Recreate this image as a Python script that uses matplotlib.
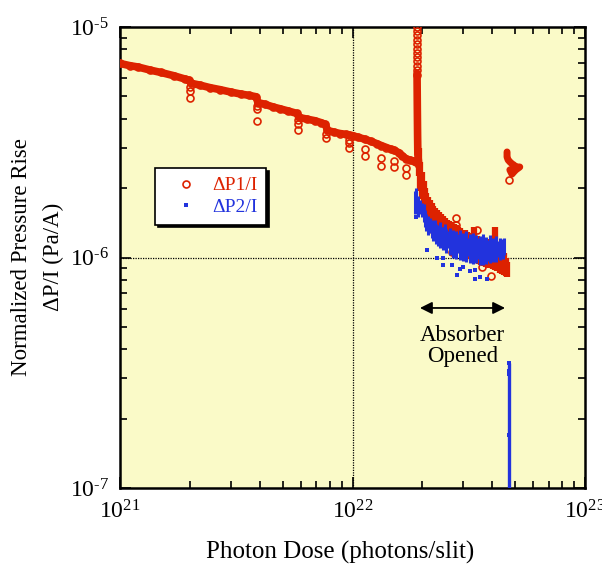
import matplotlib
matplotlib.use("Agg")
import matplotlib.pyplot as plt
from matplotlib.ticker import LogLocator, NullFormatter, FuncFormatter
import math

plt.rcParams['font.family'] = ['Liberation Serif', 'DejaVu Serif']
plt.rcParams['mathtext.fontset'] = 'custom'
plt.rcParams['mathtext.rm'] = 'Liberation Serif'
plt.rcParams['mathtext.it'] = 'Liberation Serif:italic'

RED = '#DD2200'
BLUE = '#2233DD'
BG = '#FAFAC8'

# ---------------- data ----------------
# Main ΔP1/I band (photons/slit, Pa/A)
red_main_x = [1.00e21, 1.10e21, 1.20e21, 1.35e21, 1.50e21, 1.70e21, 1.90e21, 1.98e21,
              2.02e21, 2.20e21, 2.45e21, 2.69e21, 3.00e21, 3.30e21, 3.60e21, 3.85e21,
              3.92e21, 4.20e21, 4.55e21, 4.87e21, 5.30e21, 5.75e21, 5.90e21, 6.40e21,
              6.90e21, 7.30e21, 7.65e21, 7.80e21, 8.30e21, 8.84e21, 9.40e21, 9.70e21,
              1.00e22, 1.06e22, 1.13e22, 1.20e22, 1.27e22, 1.33e22, 1.40e22, 1.46e22,
              1.51e22, 1.58e22, 1.64e22, 1.70e22, 1.76e22, 1.83e22, 1.88e22]
red_main_y = [6.95e-6, 6.80e-6, 6.70e-6, 6.50e-6, 6.35e-6, 6.15e-6, 5.95e-6, 5.88e-6,
              5.70e-6, 5.60e-6, 5.45e-6, 5.35e-6, 5.22e-6, 5.12e-6, 5.05e-6, 4.98e-6,
              4.70e-6, 4.62e-6, 4.50e-6, 4.42e-6, 4.32e-6, 4.22e-6, 4.05e-6, 3.98e-6,
              3.92e-6, 3.85e-6, 3.78e-6, 3.56e-6, 3.50e-6, 3.45e-6, 3.42e-6, 3.40e-6,
              3.38e-6, 3.32e-6, 3.26e-6, 3.19e-6, 3.12e-6, 3.06e-6, 3.00e-6, 2.95e-6,
              2.92e-6, 2.85e-6, 2.76e-6, 2.68e-6, 2.65e-6, 2.62e-6, 2.60e-6]

# Dips of ΔP1/I at the steps
red_dip_x = [2.0e21, 2.0e21, 2.0e21, 3.88e21, 3.88e21, 3.88e21, 5.83e21, 5.83e21, 5.83e21,
             7.7e21, 7.7e21, 9.66e21, 9.66e21, 9.66e21, 1.13e22, 1.13e22, 1.33e22, 1.33e22,
             1.51e22, 1.51e22, 1.70e22, 1.70e22]
red_dip_y = [4.92e-6, 5.30e-6, 5.50e-6, 3.91e-6, 4.40e-6, 4.55e-6, 3.57e-6, 3.80e-6, 3.95e-6,
             3.30e-6, 3.45e-6, 2.99e-6, 3.15e-6, 3.25e-6, 2.75e-6, 2.95e-6, 2.50e-6, 2.70e-6,
             2.47e-6, 2.62e-6, 2.28e-6, 2.45e-6]

# Spike when absorber opened
spike_top_x = [1.90e22] * 12
spike_top_y = [1.0e-5, 9.6e-6, 9.2e-6, 8.8e-6, 8.4e-6, 8.0e-6, 7.7e-6, 7.4e-6,
               7.1e-6, 6.8e-6, 6.5e-6, 6.2e-6]
spike_x = [1.895e22, 1.90e22, 1.905e22, 1.91e22, 1.93e22]
spike_y = [6.3e-6, 4.5e-6, 3.4e-6, 2.8e-6, 2.5e-6]

# ΔP1/I after opening: (x, low, high)
red_dec_x = [1.93e22, 1.96e22, 1.99e22, 2.02e22, 2.05e22, 2.08e22, 2.11e22, 2.15e22,
             2.19e22, 2.23e22, 2.27e22, 2.31e22, 2.36e22, 2.40e22, 2.45e22, 2.50e22,
             2.55e22, 2.60e22, 2.66e22, 2.72e22, 2.78e22, 2.84e22, 2.90e22, 2.97e22,
             3.04e22, 3.11e22, 3.18e22, 3.26e22, 3.34e22, 3.42e22, 3.50e22, 3.58e22,
             3.66e22, 3.75e22, 3.84e22, 3.93e22, 4.02e22, 4.11e22, 4.20e22, 4.30e22,
             4.40e22, 4.50e22, 4.58e22, 4.64e22]
red_dec_lo = [2.25e-6, 1.95e-6, 1.80e-6, 1.70e-6, 1.62e-6, 1.55e-6, 1.50e-6, 1.45e-6,
              1.40e-6, 1.37e-6, 1.34e-6, 1.30e-6, 1.27e-6, 1.24e-6, 1.22e-6, 1.20e-6,
              1.18e-6, 1.16e-6, 1.14e-6, 1.11e-6, 1.09e-6, 1.07e-6, 1.06e-6, 1.04e-6,
              1.02e-6, 1.00e-6, 0.99e-6, 0.97e-6, 0.96e-6, 0.95e-6, 0.94e-6, 0.93e-6,
              0.92e-6, 0.91e-6, 0.90e-6, 0.90e-6, 0.89e-6, 0.88e-6, 0.87e-6, 0.86e-6,
              0.85e-6, 0.84e-6, 0.83e-6, 0.82e-6]
red_dec_hi = [3.00e-6, 2.60e-6, 2.35e-6, 2.15e-6, 2.00e-6, 1.90e-6, 1.83e-6, 1.77e-6,
              1.72e-6, 1.67e-6, 1.64e-6, 1.60e-6, 1.57e-6, 1.54e-6, 1.51e-6, 1.48e-6,
              1.46e-6, 1.44e-6, 1.42e-6, 1.40e-6, 1.38e-6, 1.36e-6, 1.34e-6, 1.32e-6,
              1.31e-6, 1.29e-6, 1.28e-6, 1.27e-6, 1.36e-6, 1.24e-6, 1.23e-6, 1.22e-6,
              1.21e-6, 1.20e-6, 1.19e-6, 1.18e-6, 1.24e-6, 1.36e-6, 1.15e-6, 1.11e-6,
              1.08e-6, 1.05e-6, 1.00e-6, 0.96e-6]
red_out_x = [2.80e22, 2.80e22, 2.68e22, 3.43e22, 3.59e22, 3.94e22, 2.25e22]
red_out_y = [1.48e-6, 1.38e-6, 1.06e-6, 1.32e-6, 0.91e-6, 0.83e-6, 1.30e-6]

# Late ΔP1/I cluster
red_late_x = [4.62e22, 4.62e22, 4.67e22, 4.75e22, 4.85e22, 4.94e22, 5.04e22, 5.14e22,
              5.24e22, 5.04e22, 4.94e22, 4.85e22, 4.75e22]
red_late_y = [2.87e-6, 2.73e-6, 2.65e-6, 2.60e-6, 2.55e-6, 2.52e-6, 2.47e-6, 2.47e-6,
              2.47e-6, 2.40e-6, 2.35e-6, 2.30e-6, 2.40e-6]
red_late_out_x = [4.70e22]
red_late_out_y = [2.17e-6]

# ΔP2/I band: (x, low, high)
blue_x = [1.86e22, 1.88e22, 1.91e22, 1.95e22, 1.99e22, 2.02e22, 2.05e22, 2.08e22, 2.11e22,
          2.15e22, 2.19e22, 2.22e22, 2.26e22, 2.29e22, 2.33e22, 2.38e22, 2.42e22, 2.45e22,
          2.49e22, 2.52e22, 2.57e22, 2.62e22, 2.66e22, 2.70e22, 2.74e22, 2.79e22, 2.84e22,
          2.90e22, 2.94e22, 2.98e22, 3.03e22, 3.08e22, 3.14e22, 3.20e22, 3.25e22, 3.29e22,
          3.34e22, 3.39e22, 3.46e22, 3.53e22, 3.58e22, 3.64e22, 3.70e22, 3.75e22, 3.82e22,
          3.90e22, 3.96e22, 4.01e22, 4.07e22, 4.14e22, 4.20e22, 4.30e22, 4.37e22, 4.43e22,
          4.50e22]
blue_lo = [1.55e-6, 1.60e-6, 1.50e-6, 1.55e-6, 1.50e-6, 1.42e-6, 1.35e-6, 1.30e-6, 1.25e-6,
           1.28e-6, 1.22e-6, 1.18e-6, 1.20e-6, 1.15e-6, 1.12e-6, 1.10e-6, 1.15e-6, 1.08e-6,
           1.12e-6, 1.05e-6, 1.10e-6, 1.03e-6, 1.08e-6, 1.00e-6, 1.06e-6, 0.99e-6, 1.05e-6,
           0.98e-6, 1.04e-6, 0.97e-6, 1.03e-6, 0.96e-6, 1.02e-6, 0.95e-6, 1.01e-6, 0.94e-6,
           1.00e-6, 0.95e-6, 0.99e-6, 0.93e-6, 0.98e-6, 0.93e-6, 0.99e-6, 0.94e-6, 0.97e-6,
           0.95e-6, 1.00e-6, 0.96e-6, 1.00e-6, 0.96e-6, 1.01e-6, 0.98e-6, 1.02e-6, 0.99e-6,
           1.03e-6]
blue_hi = [1.95e-6, 2.00e-6, 1.85e-6, 1.78e-6, 1.72e-6, 1.70e-6, 1.60e-6, 1.55e-6, 1.52e-6,
           1.48e-6, 1.45e-6, 1.42e-6, 1.45e-6, 1.40e-6, 1.38e-6, 1.42e-6, 1.36e-6, 1.35e-6,
           1.40e-6, 1.33e-6, 1.30e-6, 1.34e-6, 1.28e-6, 1.32e-6, 1.27e-6, 1.30e-6, 1.26e-6,
           1.32e-6, 1.25e-6, 1.28e-6, 1.24e-6, 1.30e-6, 1.22e-6, 1.26e-6, 1.23e-6, 1.28e-6,
           1.21e-6, 1.25e-6, 1.22e-6, 1.24e-6, 1.20e-6, 1.26e-6, 1.20e-6, 1.23e-6, 1.19e-6,
           1.25e-6, 1.19e-6, 1.22e-6, 1.18e-6, 1.24e-6, 1.18e-6, 1.22e-6, 1.18e-6, 1.20e-6,
           1.22e-6]
blue_out_x = [2.45e22, 2.68e22, 2.81e22, 2.98e22, 3.20e22, 3.36e22, 3.53e22, 3.79e22,
              2.09e22, 2.31e22, 2.89e22, 3.38e22, 1.87e22, 2.45e22]
blue_out_y = [0.927e-6, 0.927e-6, 0.84e-6, 0.91e-6, 0.87e-6, 0.81e-6, 0.82e-6, 0.81e-6,
              1.078e-6, 1.00e-6, 0.89e-6, 0.88e-6, 1.50e-6, 1.00e-6]

# ΔP2/I drop at the end
blue_drop_x = [4.70e22]
blue_drop_top = [3.48e-7]
blue_drop_bot = [1.0e-7]
blue_drop_pts_x = [4.70e22, 4.70e22, 4.70e22, 4.72e22]
blue_drop_pts_y = [3.48e-7, 3.22e-7, 3.12e-7, 1.7e-7]

# Annotation
arrow_x = [1.95e22, 4.53e22]
arrow_y = 6.04e-7
text_x = 2.98e22
text_y = 4.15e-7

# ---------------- figure ----------------
fig = plt.figure(figsize=(6.02, 5.66), dpi=100)
ax = fig.add_axes([0.1993, 0.1378, 0.7725, 0.8145])
ax.set_facecolor(BG)
ax.set_xscale('log')
ax.set_yscale('log')
ax.set_xlim(1e21, 1e23)
ax.set_ylim(1e-7, 1e-5)

# grid lines at 1e22 and 1e-6
ax.axvline(1e22, color='black', lw=0.9, ls=(0, (1, 1)), zorder=1)
ax.axhline(1e-6, color='black', lw=0.9, ls=(0, (1, 1)), zorder=1)

mk = dict(mfc='none', mec=RED, ms=5, mew=1.2, zorder=3)
# red
ax.plot(red_main_x, red_main_y, '-', color=RED, lw=5.5, solid_capstyle='round', zorder=3)
ax.plot(red_main_x, red_main_y, 'o', ls='none', **mk)
ax.plot(red_dip_x, red_dip_y, 'o', ls='none', **mk)
ax.plot(spike_top_x, spike_top_y, 'o', ls='none', **mk)
ax.plot(spike_x, spike_y, '-', color=RED, lw=5.5, solid_capstyle='round', zorder=3)
ax.vlines(red_dec_x, red_dec_lo, red_dec_hi, color=RED, lw=4.5, zorder=3)
ax.plot(red_out_x, red_out_y, 'o', ls='none', **mk)
ax.plot(red_late_x, red_late_y, '-', color=RED, lw=5, solid_capstyle='round', zorder=3)
ax.plot(red_late_out_x, red_late_out_y, 'o', ls='none', **mk)

# blue
ax.vlines(blue_x, blue_lo, blue_hi, color=BLUE, lw=2.2, zorder=4)
ax.plot(blue_out_x, blue_out_y, 's', color=BLUE, ms=2.6, mew=0, zorder=4)
ax.vlines(blue_drop_x, blue_drop_bot, blue_drop_top, color=BLUE, lw=2.4, zorder=4)
ax.plot(blue_drop_pts_x, blue_drop_pts_y, 's', color=BLUE, ms=2.8, mew=0, zorder=4)

# legend handles
h1, = ax.plot([], [], 'o', mfc='none', mec=RED, ms=5, mew=1.2, label='ΔP1/I')
h2, = ax.plot([], [], 's', color=BLUE, ms=2.6, mew=0, label='ΔP2/I')
leg = ax.legend(handles=[h1, h2], loc='upper left', bbox_to_anchor=(0.075, 0.694),
                borderaxespad=0, frameon=True, fancybox=False, fontsize=14,
                handlelength=2.3, handletextpad=0.2, borderpad=0.45, labelspacing=0.2,
                shadow={'color': 'black', 'alpha': 1})
leg.get_frame().set_edgecolor('black')
leg.get_frame().set_linewidth(1.2)
leg.get_frame().set_facecolor('white')
leg.get_frame().set_alpha(1)
for t, c in zip(leg.get_texts(), [RED, BLUE]):
    t.set_color(c)

# annotation
ax.annotate('', xy=(arrow_x[0], arrow_y), xytext=(arrow_x[1], arrow_y),
            arrowprops=dict(arrowstyle='<|-|>', color='black', lw=1.3,
                            mutation_scale=18, shrinkA=0, shrinkB=0), zorder=5)
ax.text(text_x, text_y, 'Absorber\nOpened', ha='center', va='center', fontsize=16.5,
        linespacing=1.0, zorder=5)

# ticks
def fmt(v, pos):
    e = int(round(math.log10(v)))
    if e < 0:
        return r'10$^{\text{-}%d}$' % (-e)
    return r'10$^{%d}$' % e

ax.xaxis.set_major_locator(LogLocator(base=10, numticks=10))
ax.yaxis.set_major_locator(LogLocator(base=10, numticks=10))
ax.xaxis.set_major_formatter(FuncFormatter(fmt))
ax.yaxis.set_major_formatter(FuncFormatter(fmt))
ax.xaxis.set_minor_locator(LogLocator(base=10, subs=range(2, 10), numticks=20))
ax.yaxis.set_minor_locator(LogLocator(base=10, subs=range(2, 10), numticks=20))
ax.xaxis.set_minor_formatter(NullFormatter())
ax.yaxis.set_minor_formatter(NullFormatter())
ax.tick_params(which='both', direction='in', top=True, right=True, width=1.2)
ax.tick_params(which='major', length=8, labelsize=17)
ax.tick_params(which='minor', length=5)
ax.tick_params(axis='x', which='major', pad=9)
ax.tick_params(axis='y', which='major', pad=8)
for s in ax.spines.values():
    s.set_linewidth(1.8)

fig.text(340 / 602, 1 - 552 / 566, 'Photon Dose (photons/slit)', fontsize=18,
         ha='center', va='center')
fig.text(37.5 / 602, 1 - 257 / 566, 'Normalized Pressure Rise\nΔP/I (Pa/A)', fontsize=16.5,
         ha='center', va='center', rotation=90, linespacing=1.65, multialignment='center')

fig.savefig('out.png', dpi=100, facecolor='white')
